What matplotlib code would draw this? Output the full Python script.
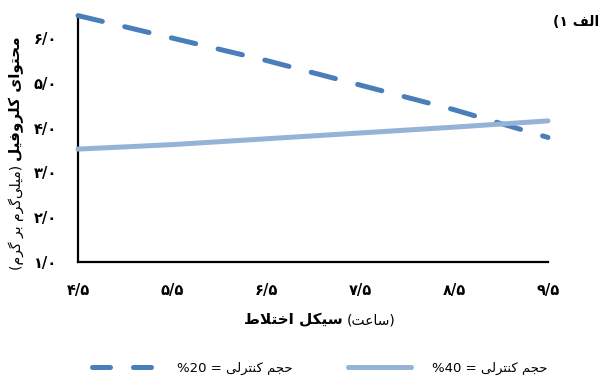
import matplotlib
matplotlib.use("Agg")
import matplotlib.pyplot as plt
from matplotlib.lines import Line2D

# Mixing cycle (hours) and chlorophyll content (mg/g)
cycle_hours = [4.5, 5.5, 6.5, 7.5, 8.5, 9.5]
chl_20 = [6.50, 6.00, 5.50, 4.95, 4.40, 3.78]
chl_40 = [3.52, 3.62, 3.75, 3.88, 4.01, 4.15]
y_ticks = [1, 2, 3, 4, 5, 6]

FA_DIGITS = "۰۱۲۳۴۵۶۷۸۹"

# presentation forms: (isolated, final, initial, medial); right-joining letters have two
FORMS = {
    "ا": ("\ufe8d", "\ufe8e"),
    "ب": ("\ufe8f", "\ufe90", "\ufe91", "\ufe92"),
    "ت": ("\ufe95", "\ufe96", "\ufe97", "\ufe98"),
    "ج": ("\ufe9d", "\ufe9e", "\ufe9f", "\ufea0"),
    "ح": ("\ufea1", "\ufea2", "\ufea3", "\ufea4"),
    "خ": ("\ufea5", "\ufea6", "\ufea7", "\ufea8"),
    "ر": ("\ufead", "\ufeae"),
    "س": ("\ufeb1", "\ufeb2", "\ufeb3", "\ufeb4"),
    "ط": ("\ufec1", "\ufec2", "\ufec3", "\ufec4"),
    "ع": ("\ufec9", "\ufeca", "\ufecb", "\ufecc"),
    "ف": ("\ufed1", "\ufed2", "\ufed3", "\ufed4"),
    "ل": ("\ufedd", "\ufede", "\ufedf", "\ufee0"),
    "م": ("\ufee1", "\ufee2", "\ufee3", "\ufee4"),
    "ن": ("\ufee5", "\ufee6", "\ufee7", "\ufee8"),
    "و": ("\ufeed", "\ufeee"),
    "ک": ("\ufb8e", "\ufb8f", "\ufb90", "\ufb91"),
    "گ": ("\ufb92", "\ufb93", "\ufb94", "\ufb95"),
    "ی": ("\ufbfc", "\ufbfd", "\ufbfe", "\ufbff"),
}
MIRROR = {"(": ")", ")": "("}


def fa(text):
    """Shape Persian text into presentation forms and lay it out right to left."""
    out = []
    i, n = 0, len(text)
    while i < n:
        c = text[i]
        if c not in FORMS:
            if c != "\u200c":
                out.append(c)
            i += 1
            continue
        prev = text[i - 1] if i > 0 else ""
        p = prev in FORMS and len(FORMS[prev]) == 4
        if c == "ل" and i + 1 < n and text[i + 1] == "ا":
            out.append("\ufefc" if p else "\ufefb")
            i += 2
            continue
        nxt = text[i + 1] if i + 1 < n else ""
        f = FORMS[c]
        q = len(f) == 4 and nxt in FORMS
        if q and p:
            out.append(f[3])
        elif q:
            out.append(f[2])
        elif p:
            out.append(f[1])
        else:
            out.append(f[0])
        i += 1
    return "".join(MIRROR.get(ch, ch) for ch in reversed(out))


def fa_num(v, fmt):
    s = fmt.format(v).replace(".", "/")
    return "".join(FA_DIGITS[int(ch)] if ch.isdigit() else ch for ch in s)


plt.rcParams["font.family"] = ["DejaVu Sans"]

W, H = 606, 380
fig = plt.figure(figsize=(W / 100, H / 100), dpi=100)
ax = fig.add_axes([78 / W, 118 / H, 470 / W, 246.4 / H])

c20 = "#4a7ebb"
c40 = "#95b3d7"
ax.plot(cycle_hours, chl_20, color=c20, lw=3.6, dashes=(5.0, 4.6),
        dash_capstyle="round", clip_on=False, zorder=3)
ax.plot(cycle_hours, chl_40, color=c40, lw=3.6, solid_capstyle="round",
        clip_on=False, zorder=3)

ax.set_xlim(4.5, 9.5)
ax.set_ylim(1, 6.5)
ax.set_xticks(cycle_hours)
ax.set_xticklabels([fa_num(v, "{:.1f}") for v in cycle_hours], fontweight="bold", fontsize=10.5)
ax.set_yticks(y_ticks)
ax.set_yticklabels([fa_num(v, "{:.1f}") for v in y_ticks], fontweight="bold", fontsize=10.5)
ax.tick_params(axis="both", length=0)
ax.tick_params(axis="x", pad=15)
ax.tick_params(axis="y", pad=15)
for side in ("top", "right"):
    ax.spines[side].set_visible(False)
for side in ("left", "bottom"):
    ax.spines[side].set_linewidth(1.6)
    ax.spines[side].set_color("black")

# corner tag
fig.text(599 / W, 1 - 22 / H, "(" + FA_DIGITS[1] + " " + fa("الف"), ha="right", va="center",
         fontsize=10, fontweight="bold")

# axis titles built from a bold part and a regular part
fig.canvas.draw()
r = fig.canvas.get_renderer()


def pair_h(cx, cy, first, second, size1, size2, gap=4):
    t1 = fig.text(0, cy / H, first, fontsize=size1, fontweight="bold", va="center")
    t2 = fig.text(0, cy / H, second, fontsize=size2, va="center")
    w1 = t1.get_window_extent(r).width
    w2 = t2.get_window_extent(r).width
    x0 = cx - (w1 + gap + w2) / 2
    t1.set_x(x0 / W)
    t2.set_x((x0 + w1 + gap) / W)


def pair_v(cx, cy, top, bottom, size1, size2, gap=4):
    t1 = fig.text(cx / W, 0, top, fontsize=size1, fontweight="bold", rotation=90,
                  ha="center", va="bottom")
    t2 = fig.text(cx / W, 0, bottom, fontsize=size2, rotation=90, ha="center", va="bottom")
    h1 = t1.get_window_extent(r).height
    h2 = t2.get_window_extent(r).height
    y0 = cy - (h1 + gap + h2) / 2
    t2.set_y(y0 / H)
    t1.set_y((y0 + h2 + gap) / H)


pair_h(320, H - 320, fa("سیکل اختلاط"), fa("(ساعت)"), 11, 10)
pair_v(16, H - 153, fa("محتوای کلروفیل"), fa("(میلی‌گرم بر گرم)"), 11, 10)

handles = [
    Line2D([], [], color=c20, lw=3.6, dashes=(3.6, 4.6), dash_capstyle="round"),
    Line2D([], [], color=c40, lw=3.6, solid_capstyle="round"),
]
labels = ["%20 = " + fa("حجم کنترلی"), "%40 = " + fa("حجم کنترلی")]
fig.legend(handles, labels, loc="center", bbox_to_anchor=(320 / W, 1 - 368 / H), ncol=2,
           frameon=False, fontsize=9.5, handlelength=4.8, handletextpad=1.6,
           columnspacing=4.2)

fig.savefig("out.png", dpi=100)
